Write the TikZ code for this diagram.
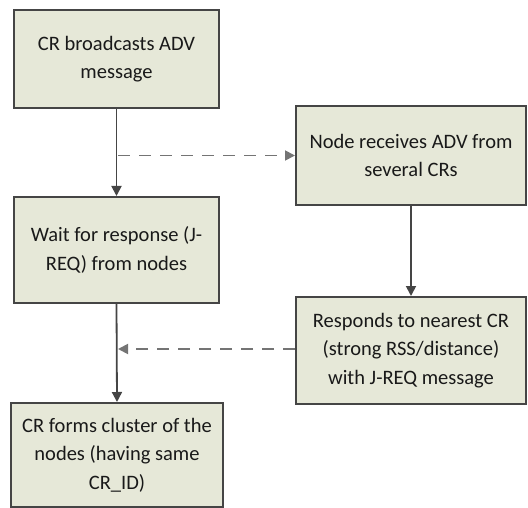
\documentclass[tikz,border=0pt]{standalone}
\usepackage{fontspec}
\setmainfont{Carlito}
\usetikzlibrary{arrows.meta}
\definecolor{boxfill}{HTML}{E6E8D8}
\definecolor{boxline}{HTML}{454545}
\begin{document}
\begin{tikzpicture}[x=1pt,y=1pt,
  stepbox/.style={draw=boxline,line width=2pt,fill=boxfill,align=center,
    inner sep=0pt,font=\fontsize{20.5}{28.5}\selectfont,text=black!90},
  solidarrow/.style={draw=boxline,line width=1.8pt,-{Triangle[length=10pt,width=10pt]}},
  dasharrow/.style={draw=boxline!75,line width=1.8pt,dash pattern=on 12pt off 9pt,-{Triangle[length=10pt,width=10pt]}}]
\useasboundingbox (0,0) rectangle (528,-508);
\node[stepbox,minimum width=205pt,minimum height=98pt] (b1) at (116.5,-59) {CR broadcasts ADV\\message};
\node[stepbox,minimum width=230pt,minimum height=99pt] (b2) at (411,-155.5) {Node receives ADV from\\several CRs};
\node[stepbox,minimum width=205pt,minimum height=106pt] (b3) at (116.5,-250) {Wait for response (J-\\REQ) from nodes};
\node[stepbox,minimum width=230pt,minimum height=107pt] (b4) at (411,-350.5) {Responds to nearest CR\\(strong RSS/distance)\\with J-REQ message};
\node[stepbox,minimum width=212pt,minimum height=104pt] (b5) at (117,-455) {CR forms cluster of the\\nodes (having same\\CR\_ID)};
\coordinate (j1) at (118,-155.5);
\coordinate (j2) at (118,-349);
\draw[solidarrow] (b1.south) -- (b3.north);
\draw[solidarrow] (b3.south) -- (b5.north);
\draw[solidarrow] (b2.south) -- (b4.north);
\draw[dasharrow] (j1) -- (b2.west);
\draw[dasharrow] (b4.west |- j2) -- (j2);
\end{tikzpicture}
\end{document}
